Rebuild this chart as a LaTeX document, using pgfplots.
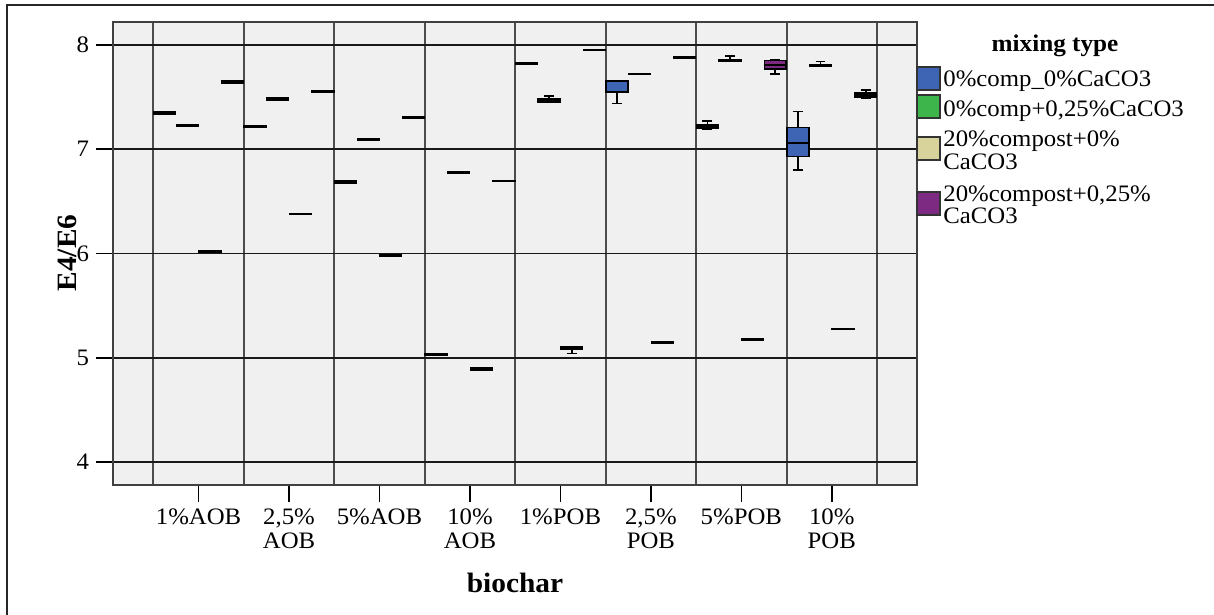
\documentclass[border=0pt]{standalone}
\usepackage{fontspec}
\setmainfont{Liberation Serif}[FakeStretch=1.05]
\usepackage{pgfplots}
\pgfplotsset{compat=1.18}
\usepgfplotslibrary{statistics}

\definecolor{mtBlue}{HTML}{3E64B4}
\definecolor{mtGreen}{HTML}{3DB54A}
\definecolor{mtBeige}{HTML}{D8D39B}
\definecolor{mtPurple}{HTML}{7D2A83}
\definecolor{plotBg}{HTML}{F0F0F0}

% position, colour, lower whisker, lower quartile, median, upper quartile, upper whisker
\newcommand{\bx}[7]{%
  \addplot[draw=black, line width=0.8pt, fill=#2,
    boxplot/draw direction=y,
    boxplot prepared={draw position=#1,
      lower whisker=#3, lower quartile=#4, median=#5,
      upper quartile=#6, upper whisker=#7,
      box extend=0.24, whisker extend=0.11}]
    coordinates {};}

\begin{document}
\begin{tikzpicture}
\useasboundingbox (-56.5pt,-65pt) rectangle (550.5pt,242.5pt);
\draw[line width=1.2pt, black!85] (-53pt,-66pt) -- (-53pt,240pt) -- (551pt,240pt);
\begin{axis}[
  at={(0,0)}, anchor=south west,
  scale only axis, width=402pt, height=231.5pt,
  xmin=-0.946, xmax=7.942, ymin=3.78, ymax=8.22,
  axis background/.style={fill=plotBg},
  axis line style={draw=black!75, line width=1pt},
  xtick={0,...,7},
  xticklabels={1\%AOB, {2,5\%\\AOB}, 5\%AOB, {10\%\\AOB},
               1\%POB, {2,5\%\\POB}, 5\%POB, {10\%\\POB}},
  minor xtick={-0.5,0.5,...,7.5},
  xminorgrids=true, xmajorgrids=false,
  ytick={4,...,8}, ymajorgrids=true,
  minor tick length=0pt,
  major tick length=8.5pt,
  tick align=outside, tick pos=left,
  tick style={black, line width=0.8pt},
  minor grid style={black!70, line width=1pt},
  major grid style={black!90, line width=0.8pt},
  /pgf/number format/assume math mode=true,
  ticklabel style={font=\fontsize{11.8}{12}\selectfont},
  xticklabel style={align=center},
  yticklabel style={anchor=east},
  xlabel={biochar}, ylabel={E4/E6},
  xlabel style={at={(axis description cs:0.5,-0.2117)}, anchor=center,
    font=\fontsize{14}{16}\selectfont\bfseries},
  ylabel style={at={(axis description cs:-0.0572,0.501)}, anchor=center,
    font=\fontsize{14}{16}\selectfont\bfseries},
]
% 1%AOB
\bx{-0.375}{mtBlue}{7.34}{7.34}{7.35}{7.36}{7.36}
\bx{-0.125}{mtGreen}{7.225}{7.225}{7.23}{7.235}{7.235}
\bx{0.125}{mtBeige}{6.01}{6.01}{6.02}{6.03}{6.03}
\bx{0.375}{mtPurple}{7.63}{7.635}{7.645}{7.655}{7.655}
% 2,5%AOB
\bx{0.625}{mtBlue}{7.215}{7.215}{7.22}{7.225}{7.225}
\bx{0.875}{mtGreen}{7.47}{7.47}{7.48}{7.49}{7.49}
\bx{1.125}{mtBeige}{6.375}{6.375}{6.38}{6.385}{6.385}
\bx{1.375}{mtPurple}{7.55}{7.55}{7.555}{7.56}{7.56}
% 5%AOB
\bx{1.625}{mtBlue}{6.67}{6.675}{6.685}{6.695}{6.695}
\bx{1.875}{mtGreen}{7.09}{7.09}{7.095}{7.10}{7.10}
\bx{2.125}{mtBeige}{5.975}{5.975}{5.98}{5.985}{5.985}
\bx{2.375}{mtPurple}{7.295}{7.295}{7.30}{7.31}{7.31}
% 10%AOB
\bx{2.625}{mtBlue}{5.02}{5.02}{5.025}{5.035}{5.035}
\bx{2.875}{mtGreen}{6.77}{6.77}{6.775}{6.78}{6.78}
\bx{3.125}{mtBeige}{4.88}{4.885}{4.89}{4.90}{4.90}
\bx{3.375}{mtPurple}{6.69}{6.69}{6.695}{6.70}{6.70}
% 1%POB
\bx{3.625}{mtBlue}{7.815}{7.815}{7.82}{7.83}{7.83}
\bx{3.875}{mtGreen}{7.45}{7.455}{7.47}{7.485}{7.51}
\bx{4.125}{mtBeige}{5.04}{5.08}{5.095}{5.11}{5.11}
\bx{4.375}{mtPurple}{7.945}{7.945}{7.95}{7.955}{7.955}
% 2,5%POB
\bx{4.625}{mtBlue}{7.44}{7.55}{7.65}{7.66}{7.66}
\bx{4.875}{mtGreen}{7.715}{7.715}{7.72}{7.725}{7.725}
\bx{5.125}{mtBeige}{5.14}{5.14}{5.145}{5.15}{5.15}
\bx{5.375}{mtPurple}{7.875}{7.875}{7.88}{7.885}{7.885}
% 5%POB
\bx{5.625}{mtBlue}{7.19}{7.20}{7.215}{7.23}{7.27}
\bx{5.875}{mtGreen}{7.84}{7.845}{7.85}{7.86}{7.895}
\bx{6.125}{mtBeige}{5.17}{5.17}{5.175}{5.18}{5.18}
\bx{6.375}{mtPurple}{7.72}{7.77}{7.81}{7.85}{7.86}
% 10%POB
\bx{6.625}{mtBlue}{6.80}{6.93}{7.06}{7.21}{7.36}
\bx{6.875}{mtGreen}{7.795}{7.795}{7.80}{7.81}{7.84}
\bx{7.125}{mtBeige}{5.27}{5.27}{5.275}{5.28}{5.28}
\bx{7.375}{mtPurple}{7.49}{7.50}{7.52}{7.54}{7.57}
\end{axis}

% legend
\node[anchor=base, font=\fontsize{12}{14}\selectfont\bfseries] at (471pt,216.7pt) {mixing type};
\draw[black!80, line width=0.8pt, fill=mtBlue]   (402pt,197.5pt) rectangle (413.5pt,209pt);
\draw[black!80, line width=0.8pt, fill=mtGreen]  (402pt,183.5pt) rectangle (413.5pt,195pt);
\draw[black!80, line width=0.8pt, fill=mtBeige]  (402pt,162.5pt) rectangle (413.5pt,174pt);
\draw[black!80, line width=0.8pt, fill=mtPurple] (402pt,135pt) rectangle (413.5pt,146.5pt);
\begin{scope}[every node/.style={anchor=base west, inner sep=0pt,
    font=\fontsize{11.8}{12}\selectfont}]
\node at (415pt,199pt) {0\%comp\_0\%CaCO3};
\node at (415pt,184.2pt) {0\%comp+0,25\%CaCO3};
\node at (415pt,169.2pt) {20\%compost+0\%};
\node at (415pt,157.5pt) {CaCO3};
\node at (415pt,141.7pt) {20\%compost+0,25\%};
\node at (415pt,130.9pt) {CaCO3};
\end{scope}
\end{tikzpicture}
\end{document}
